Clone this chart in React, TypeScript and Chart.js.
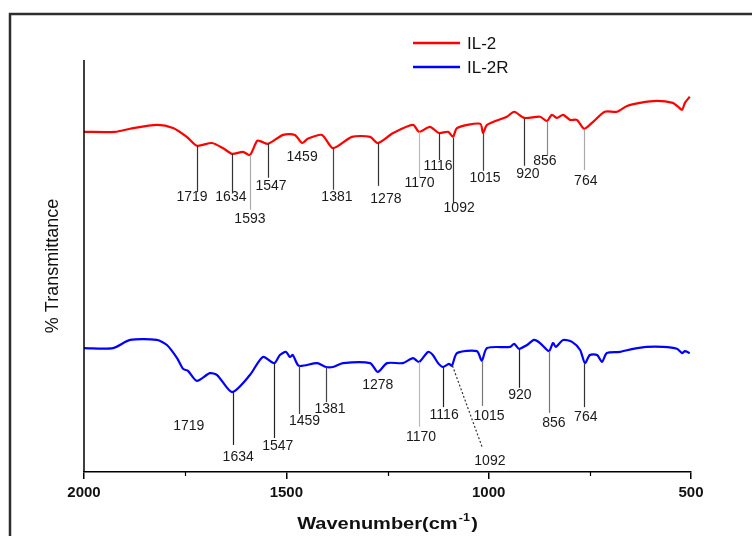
import React, { useEffect, useRef } from 'react';
import { Chart, registerables } from 'chart.js';

Chart.register(...registerables);

// ---------- data ----------
const seriesNames = ['IL-2', 'IL-2R'];
const seriesColors = ['#ff0000', '#0000ff'];

const wavenumbersIL2 = [2000, 1923, 1886, 1820, 1780, 1746, 1721, 1684, 1654, 1634, 1607, 1590, 1572, 1560, 1545, 1508, 1479, 1461, 1447, 1412, 1385, 1338, 1293, 1274, 1236, 1187, 1172, 1145, 1123, 1100, 1088, 1078, 1021, 1014, 1004, 955, 937, 912, 873, 856, 844, 831, 816, 799, 782, 764, 742, 713, 683, 658, 626, 584, 545, 532, 522, 515, 503];
const transmittanceIL2 = [88.1, 88.1, 88.9, 89.9, 89.1, 86.8, 84.5, 85.2, 83.7, 82.4, 82.9, 82.1, 85.8, 85.5, 85.0, 87.3, 87.3, 85.2, 86.3, 87.3, 83.9, 86.8, 86.8, 85.2, 87.8, 89.9, 88.1, 89.4, 87.8, 88.1, 86.8, 89.1, 90.2, 87.8, 89.9, 92.0, 93.3, 91.7, 92.0, 90.9, 92.5, 91.7, 92.5, 91.2, 91.2, 88.9, 90.7, 93.3, 93.3, 94.8, 95.6, 96.1, 95.6, 94.6, 93.8, 95.6, 97.2];

const wavenumbersIL2R = [2000, 1928, 1886, 1820, 1795, 1770, 1755, 1743, 1721, 1689, 1671, 1634, 1590, 1558, 1530, 1516, 1501, 1491, 1484, 1469, 1424, 1402, 1385, 1360, 1293, 1274, 1251, 1212, 1187, 1172, 1150, 1138, 1125, 1113, 1098, 1091, 1078, 1029, 1017, 1004, 947, 937, 925, 905, 888, 873, 851, 841, 834, 816, 794, 774, 762, 750, 732, 720, 708, 676, 643, 609, 569, 535, 522, 515, 503];
const transmittanceIL2R = [32.1, 32.1, 34.2, 34.2, 32.9, 29.5, 26.7, 26.2, 23.6, 25.6, 25.1, 20.7, 25.1, 29.8, 28.2, 30.3, 31.1, 29.8, 30.3, 27.5, 28.2, 27.2, 27.2, 28.2, 28.2, 25.9, 28.2, 28.2, 29.5, 28.5, 31.1, 30.3, 28.2, 27.2, 28.0, 27.5, 30.8, 31.3, 28.8, 32.1, 32.4, 33.2, 31.9, 32.9, 34.2, 33.4, 31.3, 33.4, 32.4, 34.2, 33.7, 31.6, 28.2, 30.3, 30.3, 28.5, 30.8, 31.1, 31.9, 32.4, 32.4, 31.9, 30.8, 31.3, 30.8];

const xMajorTicks = [2000, 1500, 1000, 500];
const xMinorTicks = [1750, 1250, 750];
const yRange = [0, 106.7];

// peak marks: [label, lineTopX, lineTopY, lineBottomX, lineBottomY, labelX, labelY]  (null = no line)
type Peak = [string, number | null, number | null, number | null, number | null, number, number];
const peaksIL2: Peak[] = [
  ['1719', 1721, 84.5, 1721, 72.5, 1733, 71.2],
  ['1634', 1634, 82.4, 1634, 72.5, 1637, 71.2],
  ['1593', 1590, 82.1, 1590, 67.9, 1590, 65.5],
  ['1547', 1545, 85.0, 1545, 76.2, 1538, 74.1],
  ['1459', null, null, null, null, 1461, 81.6],
  ['1381', 1385, 83.9, 1385, 73.1, 1375, 71.2],
  ['1278', 1274, 85.2, 1274, 74.1, 1254, 70.7],
  ['1170', 1172, 88.1, 1172, 76.4, 1171, 74.9],
  ['1116', 1123, 87.8, 1123, 80.8, 1125, 79.3],
  ['1092', 1088, 86.5, 1088, 69.7, 1073, 68.4],
  ['1015', 1014, 87.8, 1014, 78.0, 1009, 76.2],
  ['920', 912, 91.5, 912, 79.3, 903, 77.2],
  ['856', 856, 90.7, 856, 82.1, 861, 80.6],
  ['764', 764, 88.6, 764, 78.2, 760, 75.4],
];
const peaksIL2R: Peak[] = [
  ['1719', null, null, null, null, 1741, 11.9],
  ['1634', 1632, 20.7, 1632, 7.0, 1619, 3.9],
  ['1547', 1530, 28.2, 1530, 8.8, 1521, 6.7],
  ['1459', 1469, 27.5, 1469, 15.0, 1455, 13.2],
  ['1381', 1402, 27.2, 1402, 18.1, 1392, 16.3],
  ['1278', null, null, null, null, 1274, 22.5],
  ['1170', 1172, 28.5, 1172, 11.7, 1167, 9.1],
  ['1116', 1113, 27.2, 1113, 16.8, 1110, 14.8],
  ['1092', 1091, 27.5, 1017, 6.2, 997, 2.8],
  ['1015', 1017, 28.8, 1017, 17.1, 999, 14.5],
  ['920', 925, 31.9, 925, 21.8, 923, 19.9],
  ['856', 851, 31.3, 851, 15.3, 839, 12.7],
  ['764', 764, 28.2, 764, 16.8, 760, 14.2],
];

// ---------- styles ----------
const peakLineColorsIL2 = ['#333', '#333', '#aaa', '#333', '', '#444', '#333', '#bbb', '#333', '#333', '#444', '#333', '#888', '#aaa'];
const peakLineColorsIL2R = ['', '#222', '#222', '#444', '#444', '', '#bbb', '#222', '#333', '#777', '#222', '#777', '#333'];
const FONT = 'Arial, "Liberation Sans", sans-serif';

const overlayPlugin = {
  id: 'overlay',
  afterDatasetsDraw(chart: any) {
    const { ctx, chartArea: a, scales } = chart;
    const xs = scales.x;
    const ys = scales.y;
    ctx.save();

    // outer frame
    ctx.strokeStyle = '#2e2e2e';
    ctx.lineWidth = 2.5;
    ctx.strokeRect(10, 14, 900, 700);

    // y axis line
    ctx.strokeStyle = '#000';
    ctx.lineWidth = 1.5;
    ctx.beginPath();
    ctx.moveTo(a.left, a.top);
    ctx.lineTo(a.left, a.bottom);
    ctx.stroke();

    // minor ticks
    ctx.lineWidth = 1.2;
    ctx.beginPath();
    for (const v of xMinorTicks) {
      const px = Math.round(xs.getPixelForValue(v)) + 0.5;
      ctx.moveTo(px, a.bottom);
      ctx.lineTo(px, a.bottom + 4);
    }
    ctx.stroke();

    // peak marks
    const drawPeaks = (peaks: Peak[], colors: string[], dashedLabel: string) => {
      peaks.forEach((p, i) => {
        const [label, x1, y1, x2, y2, lx, ly] = p;
        if (x1 !== null && y1 !== null && x2 !== null && y2 !== null) {
          ctx.strokeStyle = colors[i] || '#333';
          ctx.lineWidth = 1.2;
          ctx.setLineDash(label === dashedLabel ? [2, 2] : []);
          ctx.beginPath();
          const px1 = Math.round(xs.getPixelForValue(x1)) + 0.5;
          const px2 = Math.round(xs.getPixelForValue(x2)) + 0.5;
          ctx.moveTo(px1, ys.getPixelForValue(y1));
          ctx.lineTo(px2, ys.getPixelForValue(y2));
          ctx.stroke();
          ctx.setLineDash([]);
        }
        ctx.fillStyle = '#1a1a1a';
        ctx.font = `14px ${FONT}`;
        ctx.textAlign = 'center';
        ctx.textBaseline = 'middle';
        ctx.fillText(label, xs.getPixelForValue(lx), ys.getPixelForValue(ly));
      });
    };
    drawPeaks(peaksIL2, peakLineColorsIL2, '');
    drawPeaks(peaksIL2R, peakLineColorsIL2R, '1092');

    // legend
    ctx.font = `17px ${FONT}`;
    ctx.textAlign = 'left';
    ctx.textBaseline = 'middle';
    seriesNames.forEach((name, i) => {
      const ly = 43 + i * 24;
      ctx.strokeStyle = seriesColors[i];
      ctx.lineWidth = 2.5;
      ctx.beginPath();
      ctx.moveTo(413, ly);
      ctx.lineTo(460, ly);
      ctx.stroke();
      ctx.fillStyle = '#111';
      ctx.fillText(name, 467, ly + 1);
    });

    // y title
    ctx.save();
    ctx.translate(53, 266);
    ctx.rotate(-Math.PI / 2);
    ctx.font = `18px ${FONT}`;
    ctx.textAlign = 'center';
    ctx.textBaseline = 'middle';
    ctx.fillStyle = '#111';
    ctx.fillText('% Transmittance', 0, 0);
    ctx.restore();

    // x title with superscript
    ctx.save();
    const cx = (a.left + a.right) / 2;
    const base = 529;
    const sx = 1.25;
    ctx.fillStyle = '#111';
    ctx.textBaseline = 'alphabetic';
    ctx.textAlign = 'left';
    const mainFont = `bold 16px ${FONT}`;
    const supFont = `bold 10px ${FONT}`;
    ctx.font = mainFont;
    const w1 = ctx.measureText('Wavenumber(cm').width;
    const w3 = ctx.measureText(')').width;
    ctx.font = supFont;
    const w2 = ctx.measureText('-1').width + 2;
    const total = (w1 + w2 + w3) * sx;
    ctx.translate(cx - total / 2, base);
    ctx.scale(sx, 1);
    ctx.font = mainFont;
    ctx.fillText('Wavenumber(cm', 0, 0);
    ctx.font = supFont;
    ctx.fillText('-1', w1 + 1, -8);
    ctx.font = mainFont;
    ctx.fillText(')', w1 + w2, 0);
    ctx.restore();

    ctx.restore();
  },
};

export default function App() {
  const canvasRef = useRef<HTMLCanvasElement | null>(null);

  useEffect(() => {
    const canvas = canvasRef.current;
    if (!canvas) return;
    const chart = new Chart(canvas, {
      type: 'line',
      data: {
        datasets: [
          {
            label: seriesNames[0],
            data: wavenumbersIL2.map((x, i) => ({ x, y: transmittanceIL2[i] })),
            borderColor: seriesColors[0],
            borderWidth: 2.2,
            pointRadius: 0,
            tension: 0.25,
            fill: false,
          },
          {
            label: seriesNames[1],
            data: wavenumbersIL2R.map((x, i) => ({ x, y: transmittanceIL2R[i] })),
            borderColor: seriesColors[1],
            borderWidth: 2.2,
            pointRadius: 0,
            tension: 0.25,
            fill: false,
          },
        ],
      },
      options: {
        animation: false,
        responsive: false,
        devicePixelRatio: 1,
        layout: { padding: { left: 84, right: 61, top: 60, bottom: 0 } },
        plugins: {
          legend: { display: false },
          tooltip: { enabled: false },
        },
        scales: {
          x: {
            type: 'linear',
            reverse: true,
            min: 500,
            max: 2000,
            afterBuildTicks: (scale: any) => {
              scale.ticks = xMajorTicks.map((v) => ({ value: v }));
            },
            afterFit: (scale: any) => {
              scale.height = 64;
            },
            grid: {
              display: true,
              drawOnChartArea: false,
              drawTicks: true,
              tickLength: 7,
              color: '#000',
              lineWidth: 1.5,
            },
            border: { display: true, color: '#000', width: 1.5 },
            ticks: {
              padding: 5,
              color: '#111',
              maxRotation: 0,
              autoSkip: false,
              font: { family: FONT, size: 15, weight: 'bold' },
              callback: (v: any) => String(v),
            },
          },
          y: {
            type: 'linear',
            min: yRange[0],
            max: yRange[1],
            display: false,
          },
        },
      },
      plugins: [overlayPlugin],
    });
    return () => chart.destroy();
  }, []);

  return (
    <div style={{ position: 'fixed', left: 0, top: 0, width: 752, height: 536, background: '#fff' }}>
      <canvas ref={canvasRef} width={752} height={536} style={{ display: 'block' }} />
    </div>
  );
}
